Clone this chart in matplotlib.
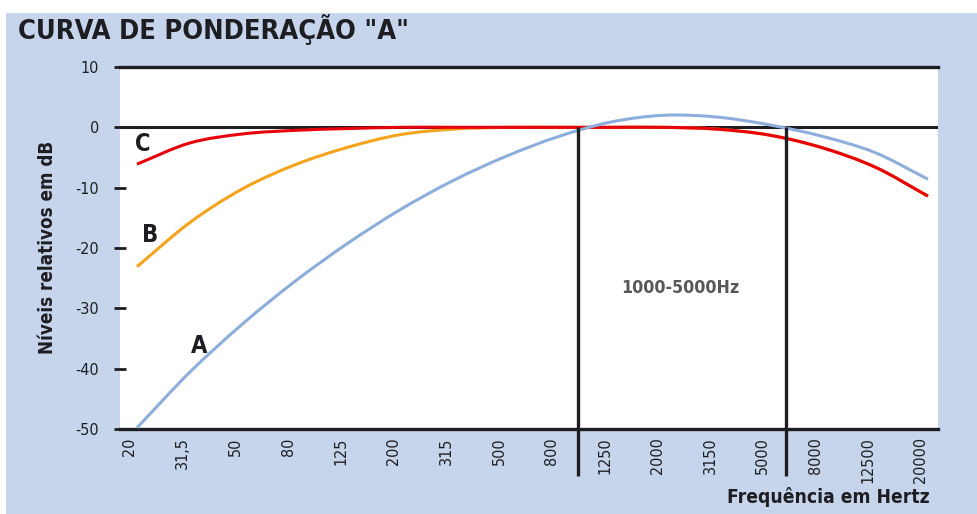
import numpy as np
import matplotlib.pyplot as plt
import matplotlib.transforms as mtransforms
from matplotlib.patches import Rectangle, PathPatch
from matplotlib.path import Path

plt.rcParams['font.family'] = ['DejaVu Sans']
plt.rcParams['font.stretch'] = 'condensed'

# x categories (Hz) and relative levels in dB
freq_labels = ['20', '31,5', '50', '80', '125', '200', '315', '500', '800',
               '1250', '2000', '3150', '5000', '8000', '12500', '20000']
curve_a = [-49.8, -40.6, -32.6, -25.5, -19.2, -13.6, -8.8, -4.8, -1.5,
           0.9, 2.0, 1.7, 0.4, -1.5, -4.2, -8.6]
curve_b = [-23.1, -15.8, -10.2, -6.2, -3.3, -1.2, -0.3, 0.0, 0.0,
           0.0, 0.0, -0.3, -1.3, -3.4, -6.6, -11.4]
curve_c = [-6.1, -2.6, -1.1, -0.5, -0.2, 0.0, 0.0, 0.0, 0.0,
           0.0, 0.0, -0.3, -1.3, -3.4, -6.6, -11.4]
band_edges = [8.36, 12.31]   # 1000 Hz and 5000 Hz markers (category units)
y_ticks = [10, 0, -10, -20, -30, -40, -50]

BG = '#c6d5eb'
INK = '#1e1e22'


def smooth_path(xs, ys):
    # Catmull-Rom through the points, drawn as cubic Bezier segments
    p = np.column_stack([xs, ys]).astype(float)
    ext = np.vstack([2 * p[0] - p[1], p, 2 * p[-1] - p[-2]])
    verts = [p[0]]
    codes = [Path.MOVETO]
    for i in range(1, len(ext) - 2):
        p0, p1, p2, p3 = ext[i - 1], ext[i], ext[i + 1], ext[i + 2]
        verts += [p1 + (p2 - p0) / 6, p2 - (p3 - p1) / 6, p2]
        codes += [Path.CURVE4] * 3
    return Path(verts, codes)


fig = plt.figure(figsize=(9.77, 5.14), dpi=100, facecolor='white')
fig.patches.append(Rectangle((6 / 977, 0), 1, 1 - 13 / 514, transform=fig.transFigure,
                             facecolor=BG, edgecolor='none', zorder=-10))

ax = fig.add_axes([120 / 977, 1 - 429 / 514, (938 - 120) / 977, (429 - 67) / 514])
ax.set_facecolor('white')
x = np.arange(len(freq_labels))

for ys, col in [(curve_b, '#f5a31c'), (curve_c, '#e8000b'), (curve_a, '#8daedc')]:
    ax.add_patch(PathPatch(smooth_path(x, ys), facecolor='none', edgecolor=col,
                           lw=2.2, capstyle='butt', zorder=3))
ax.axhline(0, color=INK, lw=2.2, zorder=2)
ax.vlines(band_edges, -57.8, 0, colors=INK, lw=2.4, clip_on=False, zorder=4)

ax.set_xlim(-0.322, 15.19)
ax.set_ylim(-50, 10)

for s in ['left', 'right']:
    ax.spines[s].set_visible(False)
for s in ['top', 'bottom']:
    ax.spines[s].set_linewidth(2.4)
    ax.spines[s].set_color(INK)

ax.set_yticks(y_ticks)
ax.set_yticklabels([str(v) for v in y_ticks], fontsize=11.5, color=INK)
ax.tick_params(axis='y', direction='inout', length=8, width=2, color=INK, pad=11)
ax.set_xticks(x)
ax.set_xticklabels(freq_labels, rotation=90, fontsize=11.5, color=INK, va='top')
ax.tick_params(axis='x', length=0, pad=6)
shift = mtransforms.ScaledTranslation(-7 / 100, 0, fig.dpi_scale_trans)
for lab in ax.get_xticklabels():
    lab.set_transform(lab.get_transform() + shift)

ax.text(0.11, -2.7, 'C', fontsize=17, fontweight='bold', color=INK, ha='center', va='center')
ax.text(0.25, -17.9, 'B', fontsize=17, fontweight='bold', color=INK, ha='center', va='center')
ax.text(1.18, -36.2, 'A', fontsize=17, fontweight='bold', color=INK, ha='center', va='center')
ax.text(10.30, -26.6, '1000-5000Hz', fontsize=12.8, fontweight='bold', color='#58585c',
        ha='center', va='center')

fig.text(18 / 977, 1 - 30 / 514, 'CURVA DE PONDERAÇÃO "A"', fontsize=19.5, fontweight='bold',
         color=INK, ha='left', va='center')
fig.text(48 / 977, 1 - 247 / 514, 'Níveis relativos em dB', fontsize=13.5, fontweight='bold',
         color=INK, rotation=90, ha='center', va='center')
fig.text(930 / 977, 1 - 497 / 514, 'Frequência em Hertz', fontsize=13.8, fontweight='bold',
         color=INK, ha='right', va='center')

fig.savefig('out.png', dpi=100)
